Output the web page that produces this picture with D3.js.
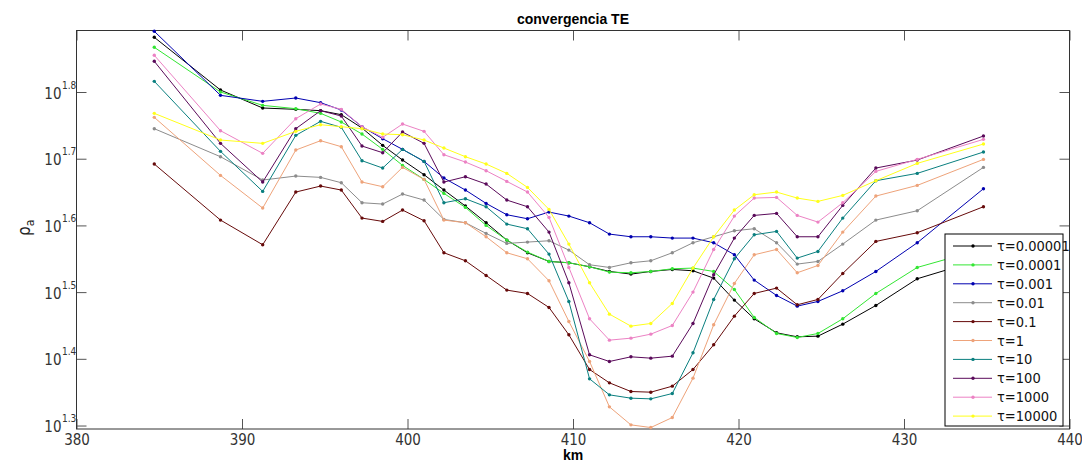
<!DOCTYPE html>
<html>
<head>
<meta charset="utf-8">
<script src="https://cdn.jsdelivr.net/npm/d3@7"></script>
<style>
  body { margin: 0; background: #fff; }
  svg text { font-family: "Liberation Sans Narrow", "DejaVu Sans Condensed", "Arial Narrow", "Liberation Sans", sans-serif; }
</style>
</head>
<body>
<div id="chart"></div>
<script>
// distance along profile (km)
const km = [384.7, 388.7, 391.25, 393.25, 394.75, 396.0, 397.25, 398.5, 399.7, 401.0, 402.2,
  403.5, 404.75, 406.0, 407.25, 408.55, 409.75, 411.0, 412.2, 413.5, 414.7, 416.0, 417.25,
  418.5, 419.75, 420.95, 422.3, 423.55, 424.8, 426.3, 428.3, 430.8, 434.8];

// log10 of apparent resistivity, one array per tau
const tau00001 = [1.882, 1.803, 1.776, 1.774, 1.772, 1.766, 1.746, 1.720, 1.698, 1.676, 1.653,
  1.629, 1.604, 1.578, 1.559, 1.546, 1.544, 1.538, 1.531, 1.527, 1.531, 1.534, 1.532,
  1.521, 1.488, 1.460, 1.439, 1.433, 1.434, 1.452, 1.480, 1.520, 1.550];
const tau0001 = [1.867, 1.800, 1.780, 1.775, 1.768, 1.755, 1.737, 1.714, 1.690, 1.669, 1.648,
  1.627, 1.600, 1.578, 1.560, 1.546, 1.544, 1.538, 1.530, 1.529, 1.531, 1.535, 1.536,
  1.531, 1.504, 1.462, 1.438, 1.432, 1.438, 1.460, 1.498, 1.537, 1.565];
const tau001 = [1.891, 1.795, 1.786, 1.791, 1.784, 1.773, 1.748, 1.730, 1.714, 1.696, 1.671,
  1.653, 1.633, 1.616, 1.610, 1.620, 1.614, 1.604, 1.587, 1.583, 1.583, 1.581, 1.581,
  1.574, 1.556, 1.518, 1.495, 1.479, 1.486, 1.502, 1.531, 1.574, 1.655];
const tau01 = [1.745, 1.703, 1.668, 1.674, 1.672, 1.664, 1.634, 1.632, 1.647, 1.638, 1.609,
  1.604, 1.588, 1.573, 1.575, 1.577, 1.563, 1.541, 1.537, 1.544, 1.547, 1.559, 1.574,
  1.583, 1.592, 1.595, 1.574, 1.542, 1.546, 1.572, 1.608, 1.622, 1.687];
const tau1 = [1.692, 1.608, 1.571, 1.650, 1.659, 1.653, 1.611, 1.606, 1.623, 1.607, 1.559,
  1.547, 1.525, 1.503, 1.498, 1.477, 1.436, 1.384, 1.364, 1.351, 1.350, 1.359, 1.384,
  1.421, 1.464, 1.498, 1.506, 1.481, 1.489, 1.528, 1.576, 1.589, 1.628];
const tau1e0 = [1.762, 1.675, 1.626, 1.713, 1.727, 1.718, 1.665, 1.658, 1.687, 1.669, 1.608,
  1.604, 1.583, 1.559, 1.550, 1.517, 1.456, 1.396, 1.328, 1.301, 1.297, 1.312, 1.371,
  1.451, 1.513, 1.556, 1.564, 1.529, 1.540, 1.590, 1.644, 1.660, 1.699];
const tau10 = [1.816, 1.711, 1.651, 1.735, 1.756, 1.747, 1.697, 1.686, 1.714, 1.696, 1.634,
  1.640, 1.628, 1.602, 1.595, 1.557, 1.486, 1.370, 1.346, 1.341, 1.340, 1.348, 1.409,
  1.489, 1.550, 1.586, 1.591, 1.551, 1.561, 1.611, 1.667, 1.678, 1.710];
const tau100 = [1.846, 1.723, 1.665, 1.745, 1.772, 1.764, 1.719, 1.709, 1.740, 1.723, 1.665,
  1.673, 1.662, 1.638, 1.628, 1.590, 1.514, 1.406, 1.396, 1.403, 1.401, 1.404, 1.453,
  1.526, 1.581, 1.615, 1.618, 1.583, 1.583, 1.630, 1.686, 1.698, 1.734];
const tau1000 = [1.855, 1.742, 1.708, 1.760, 1.782, 1.774, 1.748, 1.732, 1.752, 1.741, 1.706,
  1.695, 1.682, 1.666, 1.650, 1.612, 1.537, 1.460, 1.428, 1.431, 1.437, 1.450, 1.500,
  1.564, 1.614, 1.641, 1.642, 1.615, 1.605, 1.634, 1.681, 1.699, 1.729];
const tau10000 = [1.768, 1.728, 1.723, 1.741, 1.751, 1.748, 1.745, 1.737, 1.736, 1.728, 1.716,
  1.703, 1.692, 1.678, 1.657, 1.624, 1.572, 1.514, 1.467, 1.449, 1.453, 1.483, 1.536,
  1.583, 1.623, 1.646, 1.650, 1.641, 1.636, 1.645, 1.667, 1.693, 1.722];

const tauLabels = ["0.00001", "0.0001", "0.001", "0.01", "0.1", "1", "10", "100", "1000", "10000"];
const xTicks = [380, 390, 400, 410, 420, 430, 440];
const yTickExp = [1.3, 1.4, 1.5, 1.6, 1.7, 1.8];

let series = [tau00001, tau0001, tau001, tau01, tau1, tau1e0, tau10, tau100, tau1000, tau10000];
let colors = ["#000000", "#33e633", "#0000b0", "#8c8c8c", "#660a0a", "#eea37a",
  "#0a7f7f", "#5a0a5a", "#ec82c4", "#ffff1a"];

let margin = { top: 30.5, right: 12.5, bottom: 33, left: 76.5 };
let W = 1082, H = 462;
let width = W - margin.left - margin.right;
let height = H - margin.top - margin.bottom;

let svg = d3.select("#chart").append("svg")
  .attr("width", W)
  .attr("height", H);
let g = svg.append("g")
  .attr("transform", "translate(" + margin.left + "," + margin.top + ")");

let x = d3.scaleLinear().domain([380, 440]).range([0, width]);
let y = d3.scaleLog().domain([Math.pow(10, 1.2948), Math.pow(10, 1.8922)]).range([height, 0]);
let yTickVals = yTickExp.map(function(e) { return Math.pow(10, e); });

// axes, ticks pointing inward like matlab
let xb = g.append("g")
  .attr("transform", "translate(0," + height + ")")
  .call(d3.axisBottom(x).tickValues(xTicks).tickSizeInner(-10).tickSizeOuter(0).tickPadding(5).tickFormat(d3.format("d")));
let xt = g.append("g")
  .call(d3.axisTop(x).tickValues(xTicks).tickSizeInner(-10).tickSizeOuter(0).tickFormat(""));
let yl = g.append("g")
  .call(d3.axisLeft(y).tickValues(yTickVals).tickSizeInner(-10).tickSizeOuter(0).tickFormat(""));
let yr = g.append("g")
  .attr("transform", "translate(" + width + ",0)")
  .call(d3.axisRight(y).tickValues(yTickVals).tickSizeInner(-10).tickSizeOuter(0).tickFormat(""));

[xb, xt, yl, yr].forEach(function(a) {
  a.select(".domain").remove();
  a.selectAll(".tick line").attr("stroke", "#555");
});
xb.selectAll(".tick text")
  .attr("font-size", 15)
  .attr("fill", "#333");

// 10^x labels
yl.selectAll(".tick").each(function(d) {
  let t = d3.select(this);
  let ex = Math.round(Math.log10(d) * 10) / 10;
  t.append("text")
    .attr("x", -15)
    .attr("y", 6)
    .attr("text-anchor", "end")
    .attr("font-size", 15)
    .attr("fill", "#333")
    .text("10");
  t.append("text")
    .attr("x", -14.5)
    .attr("y", -4)
    .attr("text-anchor", "start")
    .attr("font-size", 10)
    .attr("fill", "#333")
    .text(ex.toFixed(1));
});

// box
g.append("rect")
  .attr("width", width)
  .attr("height", height)
  .attr("fill", "none")
  .attr("stroke", "#333")
  .attr("stroke-width", 1);

let line = d3.line()
  .x(function(d, i) { return x(km[i]); })
  .y(function(d) { return y(Math.pow(10, d)); });

series.forEach(function(s, k) {
  g.append("path")
    .datum(s)
    .attr("fill", "none")
    .attr("stroke", colors[k])
    .attr("stroke-width", 1)
    .attr("d", line);
  g.selectAll(".dot" + k)
    .data(s)
    .enter()
    .append("circle")
    .attr("class", "dot" + k)
    .attr("cx", function(d, i) { return x(km[i]); })
    .attr("cy", function(d) { return y(Math.pow(10, d)); })
    .attr("r", 1.7)
    .attr("fill", colors[k]);
});

// title and labels
svg.append("text")
  .attr("x", margin.left + width / 2)
  .attr("y", 24)
  .attr("text-anchor", "middle")
  .attr("font-size", 14)
  .attr("font-weight", "bold")
  .style("font-family", "'Liberation Sans', Arial, sans-serif")
  .text("convergencia TE");

svg.append("text")
  .attr("x", margin.left + width / 2)
  .attr("y", 460)
  .attr("text-anchor", "middle")
  .attr("font-size", 14)
  .attr("font-weight", "bold")
  .style("font-family", "'Liberation Sans', Arial, sans-serif")
  .text("km");

let ylab = svg.append("text")
  .attr("transform", "translate(30,236) rotate(-90)")
  .attr("font-size", 17)
  .attr("fill", "#222");
ylab.append("tspan").text("ρ");
ylab.append("tspan").attr("dy", 4).attr("font-size", 12).text("a");

// legend
let lx = 945 - margin.left, ly = 234 - margin.top;
let legend = g.append("g").attr("transform", "translate(" + lx + "," + ly + ")");
legend.append("rect")
  .attr("width", 118)
  .attr("height", 192)
  .attr("fill", "#fff")
  .attr("stroke", "#000")
  .attr("stroke-width", 1);
tauLabels.forEach(function(lab, k) {
  let row = legend.append("g").attr("transform", "translate(0," + (12 + k * 18.9) + ")");
  row.append("line")
    .attr("x1", 8).attr("x2", 47)
    .attr("stroke", colors[k]);
  row.append("circle")
    .attr("cx", 28).attr("r", 1.7)
    .attr("fill", colors[k]);
  row.append("text")
    .attr("x", 52)
    .attr("y", 5)
    .attr("font-size", 14.5)
    .attr("fill", "#111")
    .text("τ=" + lab);
});
</script>
</body>
</html>
